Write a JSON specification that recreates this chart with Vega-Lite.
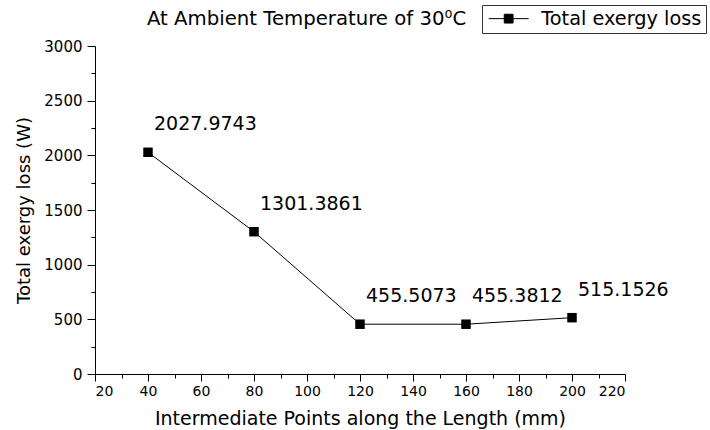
{
  "$schema": "https://vega.github.io/schema/vega-lite/v6.json",
  "autosize": "none",
  "width": 530,
  "height": 328,
  "padding": {"left": 95, "top": 46, "right": 85, "bottom": 56},
  "background": "white",
  "config": {
    "font": "DejaVu Sans",
    "view": {"stroke": null},
    "axis": {"grid": false, "domainColor": "black", "tickColor": "black", "labelColor": "black", "titleColor": "black", "labelFont": "DejaVu Sans", "titleFont": "DejaVu Sans", "titleFontWeight": "normal"}
  },
  "title": {
    "text": "At Ambient Temperature of 30⁰C",
    "font": "DejaVu Sans",
    "fontSize": 19.7,
    "fontWeight": "normal",
    "color": "black",
    "anchor": "start",
    "frame": "group",
    "baseline": "alphabetic",
    "dx": 52,
    "offset": -40
  },
  "data": {
    "values": [
      {"position": 40, "loss": 2027.9743, "series": "Total exergy loss"},
      {"position": 80, "loss": 1301.3861, "series": "Total exergy loss"},
      {"position": 120, "loss": 455.5073, "series": "Total exergy loss"},
      {"position": 160, "loss": 455.3812, "series": "Total exergy loss"},
      {"position": 200, "loss": 515.1526, "series": "Total exergy loss"}
    ]
  },
  "encoding": {
    "x": {
      "field": "position",
      "type": "quantitative",
      "scale": {"domain": [20, 220], "nice": false, "zero": false},
      "axis": {
        "title": "Intermediate Points along the Length (mm)",
        "values": [20, 30, 40, 50, 60, 70, 80, 90, 100, 110, 120, 130, 140, 150, 160, 170, 180, 190, 200, 210, 220],
        "labelExpr": "datum.value % 20 === 0 ? datum.label : ''",
        "tickSize": {"condition": {"test": "datum.value % 20 === 0", "value": 7}, "value": 4},
        "labelFontSize": 14,
        "labelPadding": 3,
        "titleFontSize": 19,
        "titlePadding": 11
      }
    },
    "y": {
      "field": "loss",
      "type": "quantitative",
      "scale": {"domain": [0, 3000], "nice": false},
      "axis": {
        "title": "Total exergy loss (W)",
        "values": [0, 250, 500, 750, 1000, 1250, 1500, 1750, 2000, 2250, 2500, 2750, 3000],
        "labelExpr": "datum.value % 500 === 0 ? datum.label : ''",
        "format": "d",
        "tickSize": {"condition": {"test": "datum.value % 500 === 0", "value": 8}, "value": 4},
        "labelFontSize": 15,
        "labelPadding": 5,
        "titleFontSize": 18,
        "titlePadding": 10
      }
    }
  },
  "layer": [
    {
      "mark": {"type": "line", "strokeWidth": 1, "color": "#444"},
      "encoding": {
        "color": {
          "field": "series",
          "type": "nominal",
          "scale": {"range": ["black"]},
          "legend": {
            "title": null,
            "orient": "none",
            "legendX": 387,
            "legendY": -41,
            "direction": "vertical",
            "strokeColor": "#333",
            "fillColor": "white",
            "padding": 4,
            "labelFont": "DejaVu Sans",
            "labelFontSize": 19.3,
            "labelLimit": 400,
            "labelColor": "black",
            "symbolType": "M-5,0H5M-1.1,-1.1H1.1V1.1H-1.1Z",
            "symbolSize": 64,
            "symbolOffset": 13,
            "labelOffset": 23,
            "encode": {"symbols": {"update": {"fill": {"value": "black"}, "stroke": {"value": "black"}, "strokeWidth": {"value": 1}}}}
          }
        }
      }
    },
    {
      "mark": {"type": "point", "shape": "square", "filled": true, "size": 90, "opacity": 1},
      "encoding": {
        "color": {"field": "series", "type": "nominal", "scale": {"range": ["black"]}}
      }
    },
    {
      "mark": {"type": "text", "align": "left", "baseline": "alphabetic", "dx": 6, "dy": -22, "fontSize": 19, "font": "DejaVu Sans", "color": "black"},
      "encoding": {
        "text": {"field": "loss", "type": "quantitative", "format": ".4f"}
      }
    }
  ]
}
